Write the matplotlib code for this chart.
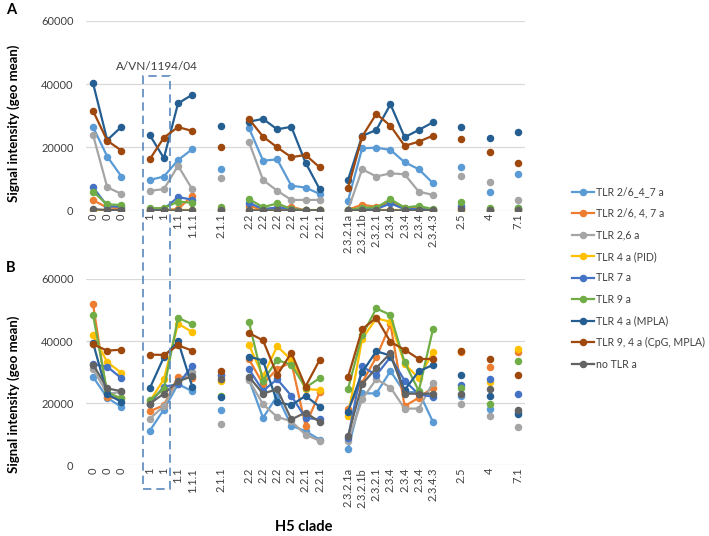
import matplotlib
matplotlib.use("Agg")
import matplotlib.pyplot as plt
import matplotlib.transforms as mtransforms
from matplotlib.patches import Rectangle
import numpy as np

plt.rcParams["font.family"] = ["Lato", "DejaVu Sans"]

# H5 clade slots, "" = empty column between groups (as in the spreadsheet)
clades = ["0", "0", "0", "", "1", "1", "1.1", "1.1.1", "", "2.1.1", "",
          "2.2", "2.2", "2.2", "2.2", "2.2.1", "2.2.1", "",
          "2.3.2.1a", "2.3.2.1b", "2.3.2.1", "2.3.4", "2.3.4", "2.3.4", "2.3.4.3", "",
          "2.5", "", "4", "", "7.1"]

series_names = ["TLR 2/6_4_7 a", "TLR 2/6, 4, 7 a", "TLR 2,6 a", "TLR 4 a (PID)",
                "TLR 7 a", "TLR 9 a", "TLR 4 a (MPLA)", "TLR 9, 4 a (CpG, MPLA)", "no TLR a"]
colors = ["#5B9BD5", "#ED7D31", "#A5A5A5", "#FFC000", "#4472C4",
          "#70AD47", "#255E91", "#9E480E", "#636363"]

N = None

# panel A (values per slot, None = gap column)
a_tlr2647 = [26400, 17100, 10800, N, 9700, 10800, 16000, 19400, N, 13100, N,
             26200, 15800, 16200, 7900, 7300, 5300, N,
             3100, 19700, 19900, 19200, 15300, 13100, 8700, N, 13700, N, 5800, N, 11600]
a_tlr26_4_7 = [3300, 1000, 800, N, 100, 200, 500, 4700, N, 300, N,
               1500, 300, 1000, 1200, 100, 100, N,
               300, 1900, 1200, 2800, 1000, 800, 300, N, 1000, N, 300, N, 500]
a_tlr26 = [23900, 7400, 5300, N, 6300, 6800, 14200, 6800, N, 10400, N,
           21800, 9700, 6300, 3400, 3400, 3400, N,
           200, 13100, 10800, 11800, 11500, 6000, 5000, N, 11000, N, 9000, N, 3400]
a_tlr4pid = [100, 100, 100, N, 100, 100, 100, 100, N, 100, N,
             100, 100, 100, 100, 100, 100, N,
             100, 100, 100, 100, 100, 100, 100, N, 0, N, 100, N, 100]
a_tlr7 = [7400, 1500, 1200, N, 300, 500, 4300, 3500, N, 500, N,
          2500, 500, 1000, 500, 100, 100, N,
          100, 500, 500, 2300, 500, 500, 300, N, 1500, N, 300, N, 800]
a_tlr9 = [6000, 2000, 1800, N, 800, 800, 2900, 2500, N, 1200, N,
          3700, 1100, 2300, 500, 100, 100, N,
          100, 1000, 1000, 3600, 1000, 1500, 500, N, 2800, N, 800, N, 1000]
a_tlr4mpla = [40200, 22300, 26500, N, 23900, 16600, 33900, 36600, N, 26800, N,
              28100, 29000, 25700, 26500, 15200, 6800, N,
              9700, 23600, 25500, 33600, 23200, 25500, 27900, N, 26500, N, 22900, N, 24700]
a_tlr94 = [31500, 22100, 19000, N, 16200, 23100, 26400, 25200, N, 20200, N,
           29000, 23400, 20000, 16900, 17600, 13700, N,
           7100, 23400, 30600, 26800, 20500, 21800, 23700, N, 22600, N, 18600, N, 15000]
a_notlr = [500, 200, 200, N, 100, 100, 100, 100, N, 100, N,
           100, 100, 100, 100, 100, 100, N,
           100, 100, 100, 100, 100, 100, 100, N, 400, N, 100, N, 100]

# panel B
b_tlr2647 = [28400, 21700, 18700, N, 11000, 17900, 26100, 23800, N, 17700, N,
             27700, 15200, 22300, 12700, 10900, 8200, N,
             5100, 23100, 23100, 30300, 23400, 23600, 13900, N, 22300, N, 18200, N, 17000]
b_tlr26_4_7 = [51800, 21900, 21500, N, 17300, 19300, 28500, 28000, N, 29000, N,
               34200, 26100, 31000, 33100, 12700, 23400, N,
               18200, 26600, 34800, 45400, 19000, 21700, 25000, N, 36500, N, 31500, N, 36600]
b_tlr26 = [31000, 23000, 23500, N, 14900, 19000, 27200, 29900, N, 13300, N,
           27400, 19600, 15500, 14100, 9800, 7800, N,
           7600, 21200, 27700, 25000, 18200, 18200, 26600, N, 19600, N, 15800, N, 12300]
b_tlr4pid = [41800, 33200, 29700, N, 20500, 27700, 45600, 42900, N, 27000, N,
             38800, 28600, 38300, 33900, 24500, 24200, N,
             15800, 40700, 47300, 46200, 32600, 28000, 36400, N, 36800, N, 26800, N, 37500]
b_tlr7 = [32500, 31700, 28000, N, 19800, 25300, 26000, 32000, N, 29000, N,
          31000, 23900, 27700, 22300, 15200, 14700, N,
          8700, 31800, 29000, 34800, 27200, 22800, 22000, N, 25700, N, 27700, N, 22800]
b_tlr9 = [48400, 23400, 21500, N, 20900, 24500, 47500, 45400, N, 22100, N,
          46200, 27200, 33900, 32300, 25000, 28000, N,
          24500, 41800, 50500, 48400, 33100, 23900, 43800, N, 25000, N, 19800, N, 33500]
b_tlr4mpla = [39400, 22800, 20400, N, 24700, 34800, 39900, 25300, N, 21900, N,
              35000, 33700, 20300, 19300, 22300, 18800, N,
              17200, 29900, 36700, 35300, 24200, 30200, 32300, N, 29000, N, 22300, N, 16300]
b_tlr94 = [38900, 36900, 37200, N, 35600, 35500, 38600, 36900, N, 30400, N,
           42600, 40200, 29000, 36200, 25300, 33900, N,
           28300, 43800, 47500, 39700, 37200, 34200, 34200, N, 36900, N, 34200, N, 29000]
b_notlr = [32400, 24700, 23800, N, 19800, 23000, 27000, 28600, N, 27700, N,
           28500, 23000, 24500, 14700, 16900, 13900, N,
           9200, 26100, 31300, 36100, 23000, 23000, 23000, N, 23000, N, 24500, N, 17700]

panel_a = [a_tlr2647, a_tlr26_4_7, a_tlr26, a_tlr4pid, a_tlr7, a_tlr9, a_tlr4mpla, a_tlr94, a_notlr]
panel_b = [b_tlr2647, b_tlr26_4_7, b_tlr26, b_tlr4pid, b_tlr7, b_tlr9, b_tlr4mpla, b_tlr94, b_notlr]

W, H = 709, 536
fig = plt.figure(figsize=(W / 100, H / 100), dpi=100)

# axes boxes from pixel positions in the reference
ax_a = fig.add_axes([86 / W, 1 - 210.7 / H, 439 / W, 190 / H])
ax_b = fig.add_axes([86 / W, 1 - 465 / H, 439 / W, 186 / H])

x = np.arange(len(clades))
for ax, panel in [(ax_a, panel_a), (ax_b, panel_b)]:
    for vals, name, c in zip(panel, series_names, colors):
        y = np.array([np.nan if v is None else v for v in vals], dtype=float)
        ax.plot(x, y, "-o", color=c, lw=1.6, ms=4.4, label=name)
    ax.set_xlim(-0.5, len(clades) - 0.5)
    ax.set_ylim(0, 60000)
    ax.set_yticks([0, 20000, 40000, 60000])
    ax.set_xticks(x)
    ax.set_xticklabels(clades, rotation=90, fontsize=8, color="#404040")
    ax.tick_params(axis="y", length=0, pad=9, labelsize=8, labelcolor="#404040")
    ax.tick_params(axis="x", length=0, pad=2)
    ax.grid(axis="y", color="#D9D9D9", lw=0.9)
    ax.set_axisbelow(True)
    for s in ax.spines.values():
        s.set_visible(False)
    ax.set_ylabel("Signal intensity (geo mean)", fontsize=9.5, fontweight="bold")

ax_a.yaxis.set_label_coords(-0.15, 0.46)
ax_b.yaxis.set_label_coords(-0.15, 0.38)
ax_b.set_xlabel("H5 clade", fontsize=10.5, fontweight="bold")
ax_b.xaxis.set_label_coords(0.495, -0.295)

# dashed box around the A/VN/1194/04 columns
trans = mtransforms.blended_transform_factory(ax_a.transData, fig.transFigure)
box = Rectangle((3.55, 1 - 489 / H), 1.9, (489 - 76) / H, transform=trans,
                fill=False, ec="#5A87BE", lw=1.2, ls=(0, (5, 3)), clip_on=False)
fig.add_artist(box)
fig.text(157 / W, 1 - 66 / H, "A/VN/1194/04", ha="center", va="center",
         fontsize=8.5, color="#404040")

fig.text(6 / W, 1 - 10 / H, "A", fontsize=10.5, fontweight="bold", va="center")
fig.text(6 / W, 1 - 268 / H, "B", fontsize=10.5, fontweight="bold", va="center")

handles, labels = ax_a.get_legend_handles_labels()
fig.legend(handles, labels, loc="center left", bbox_to_anchor=(572 / W, 1 - 278 / H),
           frameon=False, fontsize=7.6, labelspacing=1.0, handlelength=2.1,
           handletextpad=0.15, borderpad=0, borderaxespad=0, labelcolor="#404040")

fig.savefig("out.png", dpi=100)
